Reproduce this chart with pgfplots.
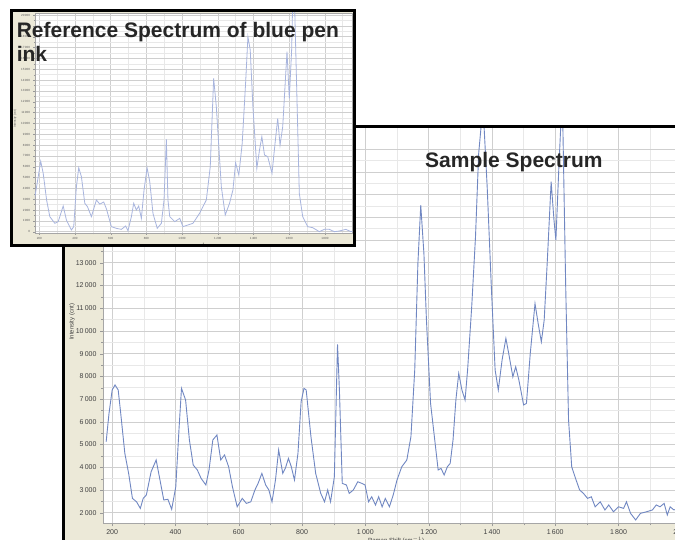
\documentclass[border=0pt]{standalone}
\usepackage{fontspec}
\setmainfont{Liberation Sans}
\usepackage{pgfplots}
\pgfplotsset{compat=1.18}
\definecolor{beige}{RGB}{236,233,216}
\definecolor{mainline}{RGB}{112,135,194}
\definecolor{refline}{RGB}{168,181,222}
\pgfplotsset{spec/.style={scale only axis,
  axis background/.style={fill=white},
  grid=both,
  major grid style={draw=gray!38, line width=0.5pt},
  minor grid style={draw=gray!18, line width=0.4pt},
  axis line style={draw=gray!70},
  tick align=outside,
  xtick pos=bottom, ytick pos=left,
  tick style={draw=gray!80},
  scaled ticks=false,
  /pgf/number format/assume math mode=true,
  /pgf/number format/1000 sep={\,},
  clip=true}}
\begin{document}
\begin{tikzpicture}[x=1pt,y=1pt]
\path[use as bounding box] (0,0) rectangle (675,540);
\clip (0,0) rectangle (675,540);
% main frame background
\fill[beige] (63.5,0) rectangle (680,413);
\begin{axis}[spec,
  at={(103pt,16.7pt)}, anchor=south west,
  width=610.5pt, height=396.3pt,
  xmin=171, xmax=2100, ymin=1534, ymax=18970,
  xtick={200,400,...,2000}, minor x tick num=1,
  ytick={2000,3000,...,18000}, minor y tick num=1,
  major tick length=3pt, minor tick length=2pt,
  ticklabel style={font=\fontsize{7}{8}\selectfont, text=black!75},
  xlabel={Raman Shift (cm$^{-1}$)},
  xlabel style={font=\fontsize{6}{7}\selectfont, text=black!75, at={(axis description cs:0.48,0)}, anchor=north, yshift=-10pt},
  ylabel={Intensity (cnt)},
  ylabel style={font=\fontsize{6}{7}\selectfont, text=black!75, at={(axis description cs:-0.0508,0.508)}, anchor=center},
]
\addplot[mainline, line width=0.9pt] coordinates {
(181,5123)(190,6370)(200,7400)(209,7620)(219,7400)(227,6370)(240,4610)(252,3730)(264,2630)(277,2480)
(289,2190)(298,2630)(308,2780)(323,3800)(339,4320)(351,3440)(363,2560)(376,2590)(388,2150)(401,3140)
(411,5640)(419,7470)(432,6960)(444,5200)(456,4100)(469,3880)(481,3510)(496,3220)(506,3880)(518,5200)
(531,5420)(543,4320)(555,4540)(568,4020)(580,3140)(595,2260)(611,2630)(624,2410)(638,2480)(651,3000)
(661,3290)(673,3730)(685,3220)(695,3000)(705,2480)(716,3440)(726,4760)(739,3730)(747,3950)(757,4390)
(766,4020)(776,3440)(787,4610)(797,6880)(806,7470)(813,7400)(828,5350)(843,3730)(859,2850)(871,2480)
(881,3000)(890,2480)(902,3580)(912,9400)(918,7400)(927,3290)(940,3220)(949,2850)(962,3000)(976,3360)
(989,3290)(999,3220)(1010,2480)(1020,2700)(1032,2340)(1042,2700)(1053,2260)(1063,2630)(1076,2260)(1088,2780)
(1100,3440)(1115,4020)(1131,4320)(1144,5350)(1156,8280)(1166,12970)(1175,15530)(1185,13400)(1193,10470)(1206,6810)
(1218,5350)(1230,3880)(1239,3950)(1249,3660)(1259,4020)(1268,4170)(1277,5200)(1286,6960)(1295,8130)(1305,7400)
(1315,6960)(1323,8280)(1336,11060)(1348,14140)(1358,17800)(1367,19200)(1375,19000)(1385,16300)(1398,11940)(1410,8280)
(1420,7400)(1432,8720)(1444,9670)(1453,9000)(1466,7980)(1475,8420)(1485,7840)(1500,6740)(1509,6810)(1521,9000)
(1536,11200)(1546,10320)(1556,9520)(1565,10470)(1575,13110)(1587,16560)(1596,14870)(1602,13990)(1611,17070)(1618,19200)
(1624,19000)(1633,11940)(1642,6080)(1652,4020)(1664,3510)(1677,3000)(1689,2850)(1702,2630)(1714,2700)(1726,2260)
(1742,2480)(1757,2120)(1769,2340)(1784,2040)(1800,2260)(1816,2190)(1825,2480)(1838,1970)(1854,1680)(1869,1970)
(1888,2040)(1907,2120)(1919,2340)(1931,2260)(1944,2410)(1954,1900)(1963,2260)(1975,2120)(1990,2200)(2005,2050)
};
\end{axis}
% main frame border
\draw[black, line width=3pt] (63.5,-5) -- (63.5,413) -- (690,413);
\node[anchor=base west, inner sep=0pt, font=\fontsize{21}{24}\selectfont\bfseries, text=black!85] at (425,372.3) {Sample Spectrum};
% inset
\fill[beige] (11.3,294.5) rectangle (354.5,529);
\begin{scope}
\clip (11.3,294.5) rectangle (354.5,529);
\begin{axis}[spec,
  at={(35pt,306.7pt)}, anchor=south west,
  width=317.5pt, height=220.4pt,
  xmin=176, xmax=1955, ymin=-150, ymax=20200,
  xtick={200,400,...,2000}, minor x tick num=1,
  ytick={0,1000,...,20000}, minor y tick num=1,
  major tick length=1.5pt, minor tick length=1pt,
  ticklabel style={font=\fontsize{3}{3.5}\selectfont, text=black!65},
  xticklabel style={yshift=1pt},
  xlabel={Raman Shift (cm$^{-1}$)},
  xlabel style={font=\fontsize{3}{3.5}\selectfont, text=black!65, at={(axis description cs:0.49,0)}, anchor=north, yshift=-6pt},
  ylabel={Intensity (cnt)},
  ylabel style={font=\fontsize{3}{3.5}\selectfont, text=black!65, at={(axis description cs:-0.063,0.52)}, anchor=center},
]
\addplot[refline, line width=0.8pt] coordinates {
(166,2308)(185,4154)(208,6500)(222,5390)(241,2926)(259,1385)(287,775)(306,923)(334,2372)(352,1080)
(380,157)(393,462)(408,4154)(421,5900)(436,5077)(455,2621)(470,2308)(492,1385)(520,2926)(539,2540)
(561,2740)(576,2117)(604,462)(632,308)(660,215)(684,523)(697,92)(716,1385)(729,2620)(744,2000)
(757,2370)(772,1230)(787,3850)(804,5900)(819,4615)(837,1690)(861,308)(884,770)(899,2926)(912,8530)
(921,2926)(931,1385)(959,923)(987,1230)(1005,462)(1033,615)(1061,770)(1098,1690)(1136,2926)(1158,6000)
(1177,14160)(1192,11540)(1220,4154)(1242,1540)(1266,2620)(1285,3850)(1300,6370)(1318,5230)(1337,8150)(1356,13700)
(1369,18000)(1382,16770)(1397,11540)(1419,5850)(1434,7540)(1447,8770)(1462,7080)(1480,6920)(1504,5390)(1521,8150)
(1536,10460)(1549,7990)(1564,9690)(1588,16620)(1601,12310)(1614,16770)(1621,22000)(1629,22000)(1644,12150)(1657,3540)
(1676,1385)(1704,462)(1732,370)(1769,0)(1797,215)(1825,215)(1853,0)(1881,60)(1918,215)(1946,0)(1970,100)
};
\end{axis}
\end{scope}
\draw[black, line width=3pt] (11.3,294.5) rectangle (354.5,529);
\node[anchor=base west, inner sep=0pt, font=\fontsize{21}{24}\selectfont\bfseries, text=black!85] at (16.6,502.7) {Reference Spectrum of blue pen};
\node[anchor=base west, inner sep=0pt, font=\fontsize{21}{24}\selectfont\bfseries, text=black!85] at (16.6,478.3) {ink};
\end{tikzpicture}
\end{document}
